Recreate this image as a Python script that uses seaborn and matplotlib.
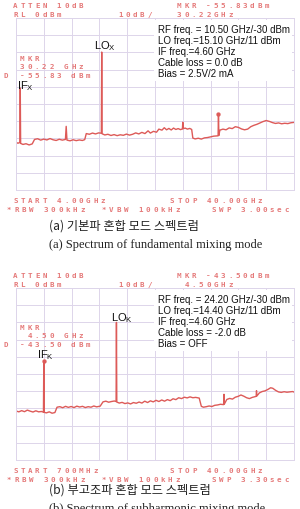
import matplotlib
matplotlib.use("Agg")
import matplotlib.pyplot as plt
import seaborn as sns
import numpy as np
from matplotlib.patches import Rectangle

sns.set_style("white")
plt.rcParams['font.family'] = ['Liberation Sans', 'DejaVu Sans']
plt.rcParams['mathtext.fontset'] = 'custom'
plt.rcParams['mathtext.rm'] = 'Liberation Sans'
plt.rcParams['mathtext.it'] = 'Liberation Sans'

# (a) fundamental mixing mode, 4 - 40 GHz
freq_a = [4.00, 4.25, 4.50, 4.55, 4.60, 4.90, 5.30, 5.70, 6.10, 6.40, 6.80, 7.20, 7.60, 8.00,
          8.40, 8.80, 9.20, 9.60, 10.00, 10.40, 10.50, 10.60, 11.00, 11.40, 11.80, 12.20,
          12.60, 12.90, 13.10, 13.50, 13.90, 14.30, 14.70, 15.05, 15.10, 15.15, 15.50, 15.90,
          16.30, 16.70, 17.10, 17.50, 17.90, 18.30, 18.70, 19.10, 19.50, 19.90, 20.30, 20.70,
          21.10, 21.40, 21.80, 22.20, 22.50, 22.90, 23.20, 23.50, 23.80, 24.10, 24.40, 24.70,
          25.00, 25.30, 25.55, 25.60, 25.65, 25.90, 26.20, 26.50, 26.75, 26.90, 27.20, 27.60,
          28.00, 28.40, 28.80, 29.20, 29.60, 30.17, 30.22, 30.27, 30.40, 30.80, 31.20, 31.60,
          32.00, 32.40, 32.80, 33.20, 33.60, 34.00, 34.40, 34.80, 35.20, 35.60, 36.00, 36.40,
          36.80, 37.20, 37.60, 38.00, 38.40, 38.80, 39.20, 39.60, 40.00]
level_a = [-72.3, -72.8, -72.4, -40.7, -72.9, -73.5, -73.1, -73.8, -73.2, -70.6, -70.2, -71.0,
           -70.4, -70.9, -70.1, -70.8, -71.2, -70.5, -71.0, -70.6, -63.0, -71.0, -71.4, -70.8,
           -71.3, -70.9, -71.2, -70.7, -67.2, -67.6, -66.9, -67.4, -66.8, -67.0, -19.8, -67.3,
           -68.0, -67.6, -68.3, -67.8, -68.4, -67.9, -68.2, -67.5, -68.1, -67.6, -66.8, -67.4,
           -66.5, -67.2, -65.6, -66.9, -65.9, -66.4, -64.6, -65.2, -63.8, -65.0, -64.2, -65.1,
           -64.0, -64.8, -64.3, -64.9, -64.5, -60.6, -64.4, -64.0, -64.6, -64.2, -64.8, -69.8,
           -70.3, -69.9, -70.4, -69.7, -69.5, -69.1, -68.7, -68.5, -55.8, -68.3, -65.2, -64.6,
           -65.0, -63.9, -64.3, -63.2, -63.6, -64.5, -65.0, -64.6, -63.2, -62.4, -61.8, -61.0,
           -60.2, -59.6, -60.1, -60.8, -61.3, -61.0, -61.5, -61.2, -61.4, -60.9, -60.7]
mkr_a = (30.22, -55.8)

# (b) subharmonic mixing mode, 0.7 - 40 GHz
freq_b = [0.70, 1.10, 1.50, 1.90, 2.30, 2.70, 3.10, 3.50, 3.90, 4.30, 4.58, 4.63, 4.68, 5.00,
          5.40, 5.80, 6.20, 6.50, 6.90, 7.30, 7.70, 8.10, 8.50, 8.90, 9.30, 9.70, 10.10, 10.50,
          10.90, 11.30, 11.70, 12.10, 12.60, 13.00, 13.40, 13.80, 14.20, 14.60, 14.85, 14.90,
          14.95, 15.30, 15.70, 16.10, 16.50, 16.90, 17.30, 17.70, 18.10, 18.50, 18.90, 19.30,
          19.70, 20.10, 20.50, 20.90, 21.30, 21.70, 22.10, 22.50, 22.90, 23.30, 23.70, 24.10,
          24.50, 24.90, 25.30, 25.70, 26.10, 26.60, 26.90, 27.20, 27.60, 28.00, 28.40, 28.80,
          29.20, 29.60, 30.05, 30.10, 30.15, 30.50, 30.90, 31.30, 31.70, 32.10, 32.50, 32.90,
          33.30, 33.70, 34.10, 34.65, 34.70, 34.75, 35.10, 35.50, 35.90, 36.30, 36.70, 37.00,
          37.40, 37.80, 38.20, 38.60, 39.00, 39.40, 39.80, 40.00]
level_b = [-71.5, -72.0, -71.3, -71.9, -71.0, -71.6, -72.1, -71.4, -72.0, -71.8, -72.2, -42.5,
           -72.3, -72.6, -72.0, -72.8, -72.4, -69.3, -69.0, -69.6, -68.8, -69.4, -68.9, -69.5,
           -68.7, -69.2, -68.8, -69.5, -69.0, -69.3, -68.6, -69.1, -68.7, -66.2, -65.8, -66.4,
           -66.0, -65.7, -66.0, -20.0, -66.3, -66.9, -66.5, -67.2, -66.8, -67.4, -66.6, -67.0,
           -66.3, -66.9, -65.8, -66.6, -65.6, -66.2, -65.3, -66.0, -65.1, -65.8, -64.9, -65.5,
           -64.4, -64.9, -63.8, -64.3, -63.5, -63.9, -63.3, -63.8, -63.6, -64.0, -68.8, -69.3,
           -69.0, -68.6, -68.9, -68.2, -68.0, -67.6, -67.8, -61.8, -67.5, -64.8, -64.2, -64.6,
           -63.5, -63.0, -62.2, -62.9, -63.8, -64.3, -63.6, -63.0, -59.7, -62.8, -61.0, -60.2,
           -59.8, -59.0, -58.0, -58.3, -59.5, -60.4, -60.7, -60.3, -60.6, -60.4, -60.2, -60.5]
mkr_b = (4.63, -42.5)

info_a = ["RF freq. = 10.50 GHz/-30 dBm", "LO freq.=15.10 GHz/11 dBm", "IF freq.=4.60 GHz",
          "Cable loss = 0.0 dB", "Bias = 2.5V/2 mA"]
info_b = ["RF freq. = 24.20 GHz/-30 dBm", "LO freq.=14.40 GHz/11 dBm", "IF freq.=4.60 GHz",
          "Cable loss = -2.0 dB", "Bias = OFF"]

W, H = 300, 510
trace_c = '#dd5a58'
lcd_c = '#e57a7a'
grid_c = '#ddd5ea'

fig = plt.figure(figsize=(3.0, 5.1), dpi=100)
fig.patch.set_facecolor('white')


def px(x, y):
    return x / W, 1 - y / H


def lcd(x, y, s, pitch=7.3, size=5.4):
    # spectrum analyser screen text: wide fixed pitch
    for i, ch in enumerate(s):
        if ch != ' ':
            fig.text(*px(x + i * pitch, y), ch, color=lcd_c, fontsize=size,
                     family='DejaVu Sans Mono', fontweight='bold', ha='left', va='center')


def panel(top, fmin, freq, level, mkr, hdr, ftr, mkr_txt, info, lo_lbl, if_lbl, sub):
    left, right, bottom = 16, 294, top + 172
    ax = fig.add_axes([left / W, 1 - bottom / H, (right - left) / W, (bottom - top) / H])
    ax.set_xlim(fmin, 40)
    ax.set_ylim(-100, 0)
    ax.set_xticks(np.linspace(fmin, 40, 11))
    ax.set_yticks(np.linspace(-100, 0, 11))
    ax.grid(True, color=grid_c, lw=0.7)
    ax.tick_params(length=0, labelbottom=False, labelleft=False)
    for sp in ax.spines.values():
        sp.set_color(grid_c)
        sp.set_linewidth(0.7)
    sns.lineplot(x=freq, y=level, ax=ax, color=trace_c, lw=1.0, estimator=None, sort=False)
    sns.scatterplot(x=[mkr[0]], y=[mkr[1]], ax=ax, color=trace_c, s=8, edgecolor=trace_c, zorder=5)
    ax.set_xlabel('')
    ax.set_ylabel('')

    # header / footer
    lcd(13, top - 13, hdr[0])
    lcd(177, top - 13, hdr[1])
    lcd(13, top - 4, hdr[2])
    lcd(118, top - 4, hdr[3])
    lcd(177, top - 4, hdr[4])
    lcd(13, bottom + 10, ftr[0])
    lcd(170, bottom + 10, ftr[1])
    lcd(7, bottom + 19, ftr[2])

    # marker readout
    lcd(20, mkr_txt[0], "MKR")
    lcd(20, mkr_txt[0] + 8, mkr_txt[1])
    lcd(4, mkr_txt[0] + 17, "D")
    lcd(20, mkr_txt[0] + 17, mkr_txt[2])

    # info box
    fig.add_artist(Rectangle(px(154, top + 63), 138 / W, 61 / H, transform=fig.transFigure,
                             facecolor='white', edgecolor='none', zorder=3))
    for i, t in enumerate(info):
        fig.text(*px(158, top + 11 + i * 11), t, fontsize=7, color='#111111',
                 ha='left', va='center', zorder=4)

    fig.text(*px(lo_lbl[0], lo_lbl[1]), lo_lbl[2], fontsize=8, color='#111111', ha='left', va='center', zorder=4)
    fig.text(*px(if_lbl[0], if_lbl[1]), if_lbl[2], fontsize=8, color='#111111', ha='left', va='center', zorder=4)

    fig.text(*px(49, sub[0]), sub[1], fontsize=8.8, family=['Noto Sans CJK KR', 'DejaVu Sans'],
             color='#222222', ha='left', va='center')
    fig.text(*px(49, sub[0] + 19), sub[2], fontsize=9, family='Liberation Serif',
             color='#222222', ha='left', va='center')


panel(19, 4.0, freq_a, level_a, mkr_a,
      ["ATTEN 10dB", "MKR -55.83dBm", "RL 0dBm", "10dB/", "30.22GHz"],
      ["START 4.00GHz", "STOP 40.00GHz", "*RBW 300kHz  *VBW 100kHz    SWP 3.00sec"],
      (59, "30.22 GHz", "-55.83 dBm"), info_a,
      (94, 46, r"LO$_{\mathrm{X}}$"), (17, 86, r"IF$_{\mathrm{X}}$"),
      (226, "(a) 기본파 혼합 모드 스펙트럼", "(a) Spectrum of fundamental mixing mode"))

panel(289, 0.7, freq_b, level_b, mkr_b,
      ["ATTEN 10dB", "MKR -43.50dBm", "RL 0dBm", "10dB/", " 4.50GHz"],
      ["START 700MHz", "STOP 40.00GHz", "*RBW 300kHz  *VBW 100kHz    SWP 3.30sec"],
      (328, " 4.50 GHz", "-43.50 dBm"), info_b,
      (111, 318, r"LO$_{\mathrm{K}}$"), (37, 355, r"IF$_{\mathrm{K}}$"),
      (490, "(b) 부고조파 혼합 모드 스펙트럼", "(b) Spectrum of subharmonic mixing mode"))

fig.savefig("out.png", dpi=100, facecolor='white')
